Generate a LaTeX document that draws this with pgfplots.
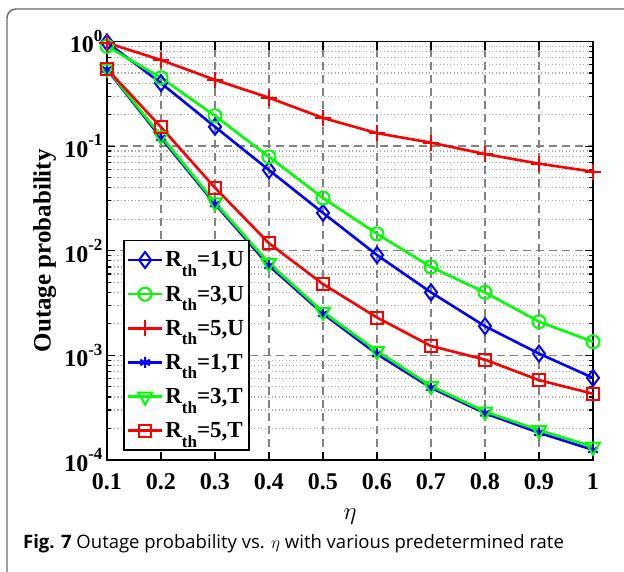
\documentclass[border=0pt]{standalone}
\usepackage{fontspec}
\setmainfont{Liberation Serif}
\newfontfamily\capfont{Open Sans}
\usepackage{pgfplots}
\pgfplotsset{compat=1.18}
\definecolor{mblue}{RGB}{0,0,255}
\definecolor{mgreen}{RGB}{0,255,0}
\definecolor{mred}{RGB}{255,0,0}
\definecolor{framegray}{RGB}{105,105,105}
\definecolor{gridgray}{RGB}{130,130,130}
\definecolor{mgridgray}{RGB}{170,170,170}
\newcommand{\Rth}{R\raisebox{-0.42em}{\fontsize{17}{17}\selectfont th}}
\newcommand{\expo}[1]{\raisebox{0.48em}{\fontsize{17}{17}\selectfont #1}}
\begin{document}
\begin{tikzpicture}
\path[use as bounding box] (0pt,0pt) rectangle (624pt,571pt);
\draw[framegray, line width=1.4pt, rounded corners=9pt] (7pt,-5pt) -- (7pt,562pt) -- (630pt,562pt);
\node[anchor=base west, inner sep=0pt] at (23pt,23pt) {\capfont\fontsize{18.5}{20}\selectfont\textbf{Fig. 7} Outage probability vs. $\eta$ with various predetermined rate};
\begin{axis}[
  at={(107pt,111pt)}, anchor=south west,
  scale only axis, width=486pt, height=418.5pt,
  ymode=log, xmin=0.1, xmax=1, ymin=1e-4, ymax=1,
  clip=false,
  xtick={0.1,0.2,0.3,0.4,0.5,0.6,0.7,0.8,0.9,1},
  xticklabels={0.1,0.2,0.3,0.4,0.5,0.6,0.7,0.8,0.9,1},
  ytick={1e-4,1e-3,1e-2,1e-1,1},
  yticklabels={{10\expo{-4}},{10\expo{-3}},{10\expo{-2}},{10\expo{-1}},{10\expo{0}}},
  minor ytick={2e-4,3e-4,4e-4,5e-4,6e-4,7e-4,8e-4,9e-4,2e-3,3e-3,4e-3,5e-3,6e-3,7e-3,8e-3,9e-3,2e-2,3e-2,4e-2,5e-2,6e-2,7e-2,8e-2,9e-2,2e-1,3e-1,4e-1,5e-1,6e-1,7e-1,8e-1,9e-1},
  minor x tick num=0,
  tick align=inside,
  xtick pos=both, ytick pos=both,
  major tick length=8pt, minor tick length=4pt,
  every tick/.style={black, line width=1.2pt},
  axis line style={black, line width=1.8pt},
  grid=both,
  major grid style={gridgray, line width=1.3pt, dash pattern=on 8pt off 5pt},
  minor grid style={mgridgray, line width=1.2pt, dash pattern=on 1.3pt off 2.2pt},
  xticklabel style={font=\bfseries\fontsize{24}{24}\selectfont, yshift=-10pt},
  yticklabel style={font=\bfseries\fontsize{24}{24}\selectfont, xshift=-1pt},
  xlabel={$\eta$},
  ylabel={\textbf{Outage probability}},
  every axis x label/.style={at={(axis description cs:0.5,-0.135)}, anchor=center, font=\fontsize{25}{25}\selectfont},
  every axis y label/.style={at={(axis description cs:-0.128,0.5)}, anchor=center, rotate=90, font=\bfseries\fontsize{25}{25}\selectfont},
  legend style={at={(0.033,0.526)}, anchor=north west, draw=black, line width=1.5pt,
    font=\bfseries\fontsize{23}{23}\selectfont, cells={anchor=west}, row sep=13.5pt,
    inner xsep=3pt, inner ysep=9pt, fill=white},
  legend image code/.code={\draw[mark repeat=2,mark phase=2] plot coordinates {(0pt,0pt) (17pt,0pt) (34pt,0pt)};},
  every axis plot/.append style={line width=2.6pt},
]
\addplot[mblue, mark=diamond, mark size=8pt, mark options={solid, line width=2pt}] coordinates {
(0.1,0.98) (0.2,0.40) (0.3,0.153) (0.4,0.059) (0.5,0.023) (0.6,0.0091) (0.7,0.0040) (0.8,0.0019) (0.9,0.00104) (1,0.00061)};
\addlegendentry{\Rth=1,U}
\addplot[mgreen, mark=o, mark size=6.5pt, mark options={solid, line width=2pt}] coordinates {
(0.1,0.90) (0.2,0.45) (0.3,0.195) (0.4,0.079) (0.5,0.032) (0.6,0.0145) (0.7,0.0070) (0.8,0.0040) (0.9,0.0021) (1,0.00135)};
\addlegendentry{\Rth=3,U}
\addplot[mred, mark=+, mark size=8pt, mark options={solid, line width=2pt}] coordinates {
(0.1,0.97) (0.2,0.665) (0.3,0.43) (0.4,0.29) (0.5,0.186) (0.6,0.133) (0.7,0.108) (0.8,0.084) (0.9,0.068) (1,0.057)};
\addlegendentry{\Rth=5,U}
\addplot[mblue, mark=asterisk, mark size=5.5pt, mark options={solid, line width=2pt}] coordinates {
(0.1,0.54) (0.2,0.12) (0.3,0.028) (0.4,0.0072) (0.5,0.0025) (0.6,0.00103) (0.7,0.00049) (0.8,0.00028) (0.9,0.000182) (1,0.000125)};
\addlegendentry{\Rth=1,T}
\addplot[mgreen, mark=triangle, mark size=8pt, mark options={solid, line width=2pt, rotate=180}] coordinates {
(0.1,0.55) (0.2,0.125) (0.3,0.029) (0.4,0.0076) (0.5,0.0026) (0.6,0.0011) (0.7,0.00051) (0.8,0.00029) (0.9,0.000193) (1,0.000134)};
\addlegendentry{\Rth=3,T}
\addplot[mred, mark=square, mark size=6pt, mark options={solid, line width=2pt}] coordinates {
(0.1,0.546) (0.2,0.152) (0.3,0.040) (0.4,0.0118) (0.5,0.0048) (0.6,0.0023) (0.7,0.00123) (0.8,0.00091) (0.9,0.00058) (1,0.00043)};
\addlegendentry{\Rth=5,T}
\end{axis}
\end{tikzpicture}
\end{document}
